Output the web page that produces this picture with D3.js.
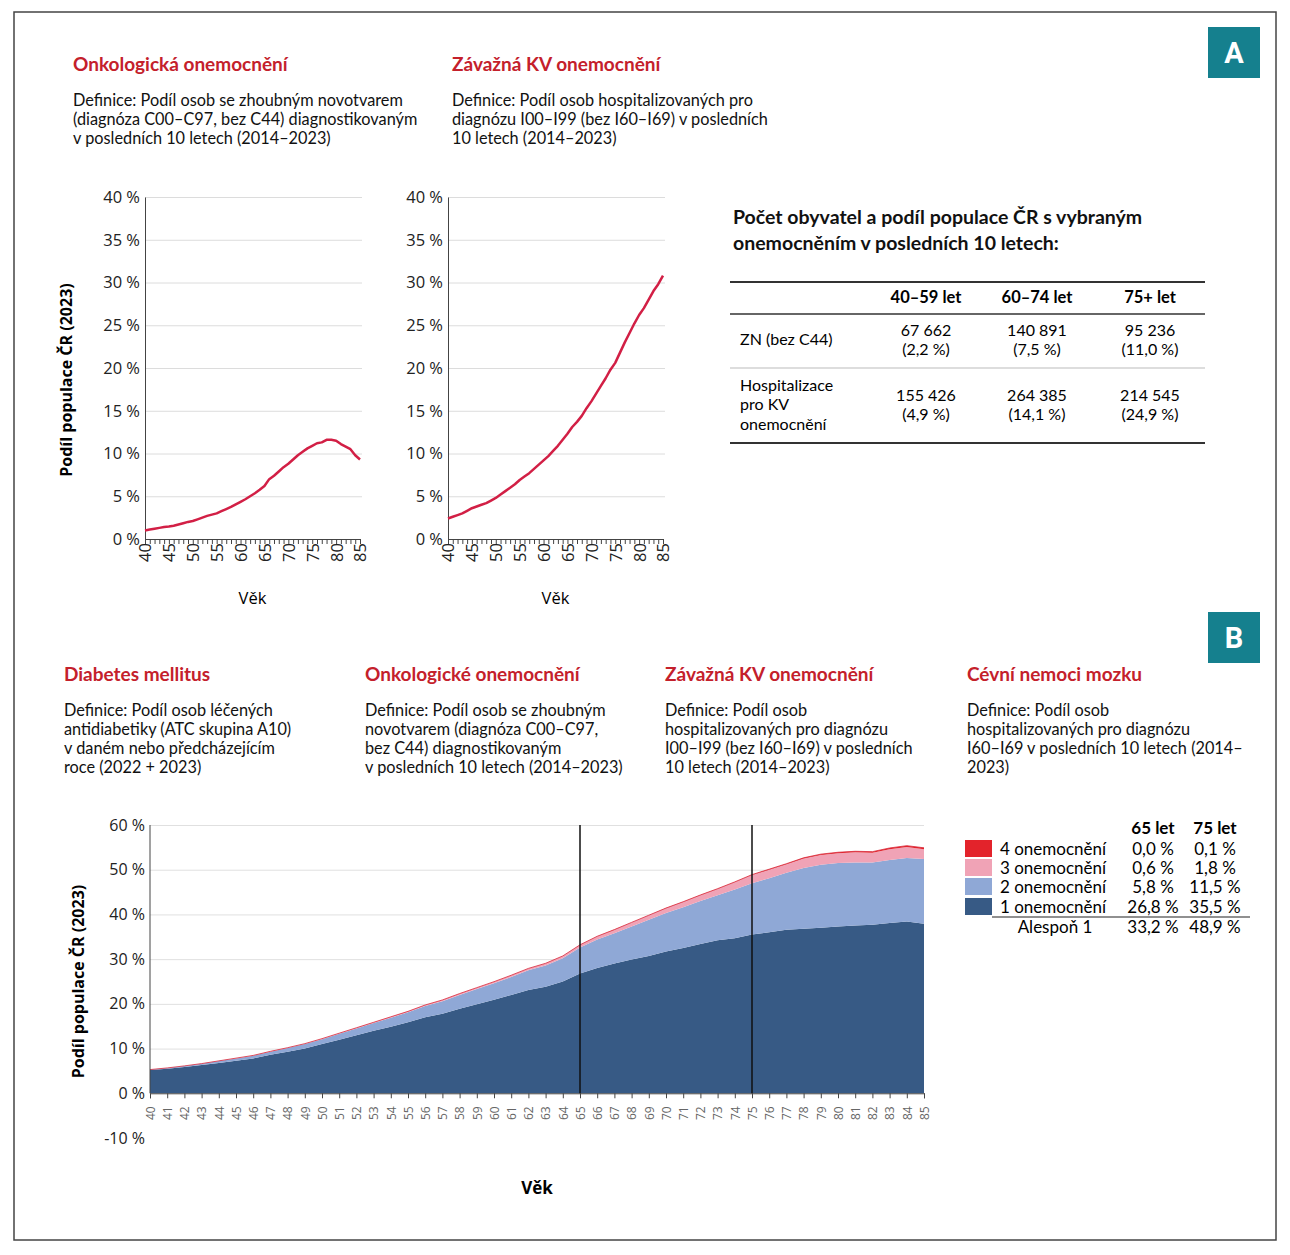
<!DOCTYPE html>
<html><head><meta charset="utf-8">
<script src="https://cdn.jsdelivr.net/npm/d3@7"></script>
<style>body{margin:0;background:#fff} svg{display:block}</style>
</head><body><script>
// ages on the x axis (categories)
const ages = d3.range(40, 86)

// panel A - share of population, %
const znShare = [1.0,1.1,1.2,1.3,1.4,1.45,1.55,1.7,1.85,2.0,2.1,2.3,2.5,2.7,2.85,3.0,3.25,3.5,3.75,4.05,4.35,4.65,5.0,5.35,5.75,6.2,7.0,7.4,7.9,8.4,8.8,9.3,9.8,10.2,10.6,10.9,11.2,11.3,11.6,11.6,11.5,11.1,10.8,10.5,9.8,9.3]
const kvShare = [2.4,2.6,2.8,3.0,3.3,3.6,3.8,4.0,4.2,4.5,4.8,5.2,5.6,6.0,6.4,6.9,7.3,7.7,8.2,8.7,9.2,9.7,10.3,10.9,11.6,12.3,13.1,13.7,14.4,15.3,16.1,17.0,17.9,18.8,19.8,20.6,21.8,23.0,24.1,25.2,26.2,27.0,28.0,29.0,29.8,30.8]

// panel B - number of diseases, stacked %
const oneDisease = [5.2,5.5,5.9,6.3,6.8,7.3,7.8,8.6,9.3,10.0,11.0,12.0,13.0,14.0,14.9,15.9,17.0,17.8,18.9,19.9,20.9,22.0,23.1,23.8,25.0,26.8,28.0,29.0,29.9,30.7,31.7,32.5,33.4,34.2,34.7,35.5,36.0,36.6,36.8,37.0,37.3,37.5,37.7,38.1,38.4,37.9]
const twoDiseases = [0.1,0.15,0.2,0.3,0.4,0.5,0.6,0.7,0.8,1.0,1.1,1.3,1.5,1.7,2.0,2.2,2.5,2.8,3.1,3.4,3.7,4.0,4.4,4.8,5.2,5.8,6.4,6.8,7.4,8.1,8.6,9.1,9.6,10.1,10.9,11.5,12.1,12.7,13.6,14.1,14.2,14.1,13.9,14.1,14.2,14.5]
const threeDiseases = [0.0,0.02,0.03,0.04,0.05,0.06,0.07,0.08,0.1,0.1,0.12,0.14,0.15,0.17,0.2,0.22,0.25,0.27,0.3,0.33,0.36,0.4,0.43,0.47,0.52,0.6,0.7,0.8,0.9,1.0,1.1,1.2,1.3,1.4,1.6,1.8,1.9,1.9,2.1,2.2,2.2,2.3,2.2,2.4,2.5,2.2]
const fourDiseases = [0,0,0,0,0,0,0,0,0,0,0,0,0,0,0,0,0,0,0,0,0,0,0,0,0,0.0,0.01,0.01,0.02,0.02,0.03,0.04,0.05,0.06,0.08,0.1,0.12,0.14,0.16,0.18,0.2,0.22,0.24,0.26,0.28,0.3]

const yTicksA = [0,5,10,15,20,25,30,35,40]
const yTicksB = [-10,0,10,20,30,40,50,60]
const markAges = [65, 75]

const tableCols = ['40–59 let','60–74 let','75+ let']
const tableRows = [['ZN (bez C44)'], ['Hospitalizace','pro KV','onemocnění']]
const tableCounts = [['67 662','140 891','95 236'],['155 426','264 385','214 545']]
const tablePct = [['(2,2 %)','(7,5 %)','(11,0 %)'],['(4,9 %)','(14,1 %)','(24,9 %)']]

const legendLabels = ['4 onemocnění','3 onemocnění','2 onemocnění','1 onemocnění']
const legendCols = ['65 let','75 let']
const legend65 = ['0,0 %','0,6 %','5,8 %','26,8 %']
const legend75 = ['0,1 %','1,8 %','11,5 %','35,5 %']
const atLeastOne = ['33,2 %','48,9 %']

const FONT = 'Lato, "Open Sans", sans-serif'
const AXF = '"Open Sans", "DejaVu Sans", sans-serif'
const RED = '#c4202b'
const stackColors = ['#375a85','#8fa8d6','#f0a3b6','#e3232b']

let dim = {width: 1290, height: 1255}
let svg = d3.select('body').append('svg').attr('width', dim.width).attr('height', dim.height)
    .style('font-family', FONT)

// frame
svg.append('rect').attr('x', 14).attr('y', 12).attr('width', 1262).attr('height', 1228)
    .attr('fill', 'none').attr('stroke', '#444').attr('stroke-width', 1.5)

// badges
function badge(y, letter){
    svg.append('rect').attr('x', 1208).attr('y', y).attr('width', 52).attr('height', 51).attr('fill', '#15808e')
    svg.append('text').attr('x', 1234).attr('y', y + 36).attr('text-anchor', 'middle')
        .attr('fill', 'white').attr('font-size', 29).attr('font-weight', 700)
        .attr('font-family', 'Roboto, sans-serif').text(letter)
}
badge(27, 'A')
badge(612, 'B')

// multi line text helper
function block(x, y, title, lines, lh){
    svg.append('text').attr('x', x).attr('y', y).attr('fill', RED).attr('font-weight', 700)
        .attr('font-size', 19).text(title)
    svg.append('text').attr('font-size', 16.3).attr('fill', '#111')
        .selectAll('tspan').data(lines).enter().append('tspan')
        .attr('x', x).attr('y', (d, i) => y + 35 + i * lh).text(d => d)
}

block(73, 71, 'Onkologická onemocnění', ['Definice: Podíl osob se zhoubným novotvarem','(diagnóza C00–C97, bez C44) diagnostikovaným','v posledních 10 letech (2014–2023)'], 19)
block(452, 71, 'Závažná KV onemocnění', ['Definice: Podíl osob hospitalizovaných pro','diagnózu I00–I99 (bez I60–I69) v posledních','10 letech (2014–2023)'], 19)

block(64, 681, 'Diabetes mellitus', ['Definice: Podíl osob léčených','antidiabetiky (ATC skupina A10)','v daném nebo předcházejícím','roce (2022 + 2023)'], 19)
block(365, 681, 'Onkologické onemocnění', ['Definice: Podíl osob se zhoubným','novotvarem (diagnóza C00–C97,','bez C44) diagnostikovaným','v posledních 10 letech (2014–2023)'], 19)
block(665, 681, 'Závažná KV onemocnění', ['Definice: Podíl osob','hospitalizovaných pro diagnózu','I00–I99 (bez I60–I69) v posledních','10 letech (2014–2023)'], 19)
block(967, 681, 'Cévní nemoci mozku', ['Definice: Podíl osob','hospitalizovaných pro diagnózu','I60–I69 v posledních 10 letech (2014–','2023)'], 19)

/* PANEL A - line charts */
function lineChart(left, right, values, withTitle){
    const x = d3.scaleLinear([40, 85], [left, right])
    const y = d3.scaleLinear([0, 40], [539, 197])
    const g = svg.append('g')

    // grid
    g.append('g').attr('transform', `translate(${left},0)`)
        .call(d3.axisLeft(y).tickValues(yTicksA.slice(1)).tickSize(-(right - left + 2)).tickFormat(''))
        .call(s => s.select('.domain').remove())
        .selectAll('line').attr('stroke', '#dcdcdc')

    // y axis
    const ya = g.append('g').attr('transform', `translate(${left},0)`)
        .call(d3.axisLeft(y).tickValues(yTicksA).tickSize(0).tickPadding(5).tickFormat(d => d + ' %'))
    ya.select('.domain').attr('stroke', '#444')
    ya.selectAll('text').attr('font-size', 16.5).attr('font-family', AXF).attr('fill', '#222')

    // x axis
    const xa = g.append('g').attr('transform', `translate(0,${y(0)})`)
        .call(d3.axisBottom(x).tickValues(ages).tickSize(5).tickFormat(d => d % 5 === 0 ? d : ''))
    xa.select('.domain').attr('stroke', '#444')
    xa.selectAll('line').attr('stroke', '#444')
    xa.selectAll('text').attr('transform', 'rotate(-90)').attr('text-anchor', 'end')
        .attr('x', -4).attr('y', 0).attr('dy', '0.36em')
        .attr('font-size', 16.5).attr('font-family', AXF).attr('fill', '#222')

    const line = d3.line().x((d, i) => x(ages[i])).y(d => y(d))
    g.append('path').datum(values).attr('d', line).attr('fill', 'none')
        .attr('stroke', '#d21f45').attr('stroke-width', 2.5).attr('stroke-linejoin', 'round')

    g.append('text').attr('x', (left + right) / 2).attr('y', 604).attr('text-anchor', 'middle')
        .attr('font-size', 16.5).attr('font-family', AXF).text('Věk')

    if (withTitle) {
        g.append('text').attr('transform', `translate(72,${(y(0) + y(40)) / 2 + 12}) rotate(-90)`)
            .attr('text-anchor', 'middle').attr('font-size', 16).attr('font-weight', 700)
            .attr('font-family', AXF).text('Podíl populace ČR (2023)')
    }
}
lineChart(145, 360, znShare, true)
lineChart(448, 663, kvShare, false)

/* TABLE */
svg.append('text').attr('font-size', 19.5).attr('font-weight', 700).attr('fill', '#111')
    .selectAll('tspan').data(['Počet obyvatel a podíl populace ČR s vybraným','onemocněním v posledních 10 letech:'])
    .enter().append('tspan').attr('x', 733).attr('y', (d, i) => 224 + i * 26).text(d => d)

const colX = [926, 1037, 1150]
const tl = svg.append('g')
;[282, 443].forEach(yy => tl.append('line').attr('x1', 730).attr('x2', 1205).attr('y1', yy).attr('y2', yy).attr('stroke', '#333').attr('stroke-width', 1.8))
;[314].forEach(yy => tl.append('line').attr('x1', 730).attr('x2', 1205).attr('y1', yy).attr('y2', yy).attr('stroke', '#333').attr('stroke-width', 1.5))
tl.append('line').attr('x1', 730).attr('x2', 1205).attr('y1', 368).attr('y2', 368).attr('stroke', '#bbb').attr('stroke-width', 1)

tl.selectAll('.hd').data(tableCols).enter().append('text')
    .attr('x', (d, i) => colX[i]).attr('y', 303).attr('text-anchor', 'middle')
    .attr('font-size', 16.5).attr('font-weight', 700).text(d => d)

const rowY = [340, 405]
tableRows.forEach((r, ri) => {
    const n = r.length
    tl.append('text').attr('font-size', 16).selectAll('tspan').data(r).enter().append('tspan')
        .attr('x', 740).attr('y', (d, i) => rowY[ri] + 5 + (i - (n - 1) / 2) * 19.5).text(d => d)
    tableCounts[ri].forEach((c, ci) => {
        tl.append('text').attr('x', colX[ci]).attr('y', rowY[ri] - 4).attr('text-anchor', 'middle')
            .attr('font-size', 16).text(c)
        tl.append('text').attr('x', colX[ci]).attr('y', rowY[ri] + 15).attr('text-anchor', 'middle')
            .attr('font-size', 16).text(tablePct[ri][ci])
    })
})

/* PANEL B - stacked area */
const xB = d3.scaleLinear([40, 85], [150, 924])
const yB = d3.scaleLinear([-10, 60], [1138, 825])
const gB = svg.append('g')

gB.append('g').attr('transform', `translate(${xB(40)},0)`)
    .call(d3.axisLeft(yB).tickValues(yTicksB.filter(d => d > 0)).tickSize(-(xB(85) - xB(40))).tickFormat(''))
    .call(s => s.select('.domain').remove())
    .selectAll('line').attr('stroke', '#e0e0e0')

const rowsB = ages.map((a, i) => ({age: a, one: oneDisease[i], two: twoDiseases[i], three: threeDiseases[i], four: fourDiseases[i]}))
const stacked = d3.stack().keys(['one', 'two', 'three', 'four'])(rowsB)
const area = d3.area().x(d => xB(d.data.age)).y0(d => yB(d[0])).y1(d => yB(d[1]))
gB.selectAll('path.layer').data(stacked).enter().append('path').attr('class', 'layer')
    .attr('d', area).attr('fill', (d, i) => stackColors[i])
// thin outline of the top layer
gB.append('path').datum(stacked[3]).attr('fill', 'none').attr('stroke', '#d8283a').attr('stroke-width', 0.8)
    .attr('d', d3.line().x(d => xB(d.data.age)).y(d => yB(d[1])))

// y axis
const yaB = gB.append('g').attr('transform', `translate(${xB(40)},0)`)
    .call(d3.axisLeft(yB).tickValues(yTicksB).tickSize(0).tickPadding(5).tickFormat(d => d + ' %'))
yaB.select('.domain').remove()
yaB.selectAll('text').attr('font-size', 16).attr('font-family', AXF).attr('fill', '#222')
gB.append('line').attr('x1', xB(40)).attr('x2', xB(40)).attr('y1', yB(60)).attr('y2', yB(0)).attr('stroke', '#444')

// x axis
const xaB = gB.append('g').attr('transform', `translate(0,${yB(0)})`)
    .call(d3.axisBottom(xB).tickValues(ages).tickSize(5))
xaB.select('.domain').attr('stroke', '#444')
xaB.selectAll('line').attr('stroke', '#444')
xaB.selectAll('text').attr('transform', 'rotate(-90)').attr('text-anchor', 'end')
    .attr('x', -13).attr('y', 0).attr('dy', '0.36em')
    .attr('font-size', 12).attr('font-family', AXF).attr('fill', '#666')

// marker lines at 65 and 75
gB.selectAll('line.mark').data(markAges).enter().append('line').attr('class', 'mark')
    .attr('x1', d => xB(d)).attr('x2', d => xB(d)).attr('y1', yB(60)).attr('y2', yB(0))
    .attr('stroke', '#111').attr('stroke-width', 1.5)

gB.append('text').attr('transform', `translate(84,${(yB(-10) + yB(60)) / 2}) rotate(-90)`)
    .attr('text-anchor', 'middle').attr('font-size', 16).attr('font-weight', 700)
    .attr('font-family', AXF).text('Podíl populace ČR (2023)')
gB.append('text').attr('x', 537).attr('y', 1194).attr('text-anchor', 'middle')
    .attr('font-size', 17).attr('font-weight', 700).attr('font-family', AXF).text('Věk')

/* LEGEND */
const lg = svg.append('g').attr('font-size', 17)
const legY = [849, 868, 887, 907]
const valX = [1153, 1215]
legendCols.forEach((c, i) => lg.append('text').attr('x', valX[i]).attr('y', 834).attr('text-anchor', 'middle')
    .attr('font-weight', 700).text(c))
legendLabels.forEach((l, i) => {
    lg.append('rect').attr('x', 965).attr('y', legY[i] - 9).attr('width', 27).attr('height', 17)
        .attr('fill', stackColors[3 - i])
    lg.append('text').attr('x', 1000).attr('y', legY[i] + 6).text(l)
    lg.append('text').attr('x', valX[0]).attr('y', legY[i] + 6).attr('text-anchor', 'middle').text(legend65[i])
    lg.append('text').attr('x', valX[1]).attr('y', legY[i] + 6).attr('text-anchor', 'middle').text(legend75[i])
})
lg.append('line').attr('x1', 992).attr('x2', 1250).attr('y1', 917).attr('y2', 917).attr('stroke', '#222').attr('stroke-width', 1.2)
lg.append('text').attr('x', 1055).attr('y', 933).attr('text-anchor', 'middle').text('Alespoň 1')
atLeastOne.forEach((v, i) => lg.append('text').attr('x', valX[i]).attr('y', 933).attr('text-anchor', 'middle').text(v))
</script></body></html>
